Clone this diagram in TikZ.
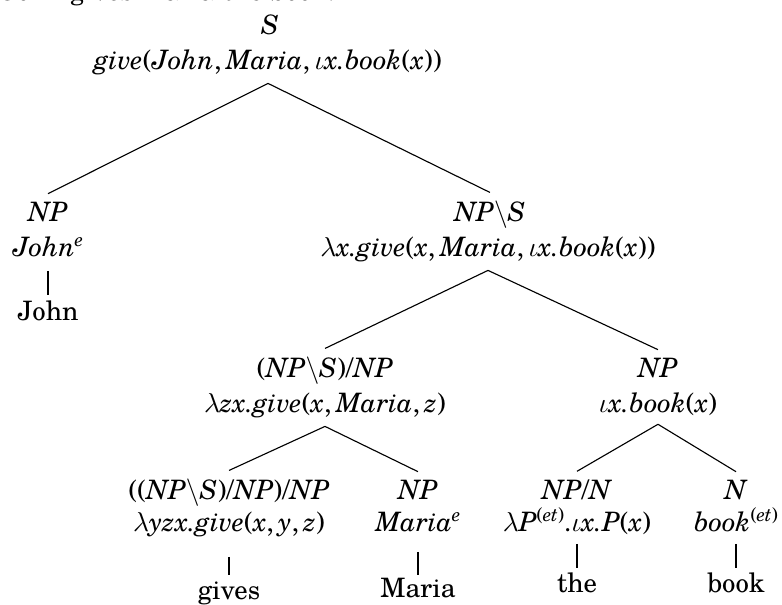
\documentclass[tikz,border=0pt]{standalone}
\usepackage{fontspec}
\setmainfont{TeX Gyre Schola}
% italic words set in the text italic
\newcommand\vi[1]{\textit{#1}}
\newcommand\bsl{$\backslash$}
\newcommand\lamb{$\lambda$}
\newcommand\iot{$\iota$}
\newcommand\supx[1]{\raisebox{4.3pt}{\fontsize{7.6}{8}\selectfont #1}}
\begin{document}
\begin{tikzpicture}[x=0.4pt,y=-0.4pt,
  font=\fontsize{10.7}{13}\selectfont,
  lbl/.style={inner sep=0pt,outer sep=0pt,anchor=base},
  edge/.style={line width=0.45pt},
]
\useasboundingbox (0,0) rectangle (782,605);

% sentence line above the tree
\node[lbl,anchor=base west] (cap) at (2,1) {John gives Maria the book.};

% root
\node[lbl] (sC) at (270,35) {\vi{S}};
\node[lbl] (sS) at (268,70) {\vi{give}(\vi{John},\,\vi{Maria},\,\iot\vi{x.book}(\vi{x}))};

% level 2
\node[lbl] (jC) at (48,222) {\vi{NP}};
\node[lbl] (jS) at (48,257) {\vi{John}\supx{\vi{e}}};
\node[lbl] (jW) at (48,321) {John};

\node[lbl] (vpC) at (490,222) {\vi{NP}\bsl\vi{S}};
\node[lbl] (vpS) at (488,257) {\lamb\vi{x.give}(\vi{x},\,\vi{Maria},\,\iot\vi{x.book}(\vi{x}))};

% level 3
\node[lbl] (tvC) at (325,378) {(\vi{NP}\bsl\vi{S})/\vi{NP}};
\node[lbl] (tvS) at (325,413) {\lamb\vi{zx.give}(\vi{x},\,\vi{Maria},\,\vi{z})};

\node[lbl] (dpC) at (658,378) {\vi{NP}};
\node[lbl] (dpS) at (658,413) {\iot\vi{x.book}(\vi{x})};

% level 4
\node[lbl] (gC) at (229,500) {((\vi{NP}\bsl\vi{S})/\vi{NP})/\vi{NP}};
\node[lbl] (gS) at (229,532) {\lamb\vi{yzx.give}(\vi{x},\,\vi{y},\,\vi{z})};
\node[lbl] (gW) at (229,600) {gives};

\node[lbl] (mC) at (418,500) {\vi{NP}};
\node[lbl] (mS) at (418,532) {\vi{Maria}\supx{\vi{e}}};
\node[lbl] (mW) at (418,598) {Maria};

\node[lbl] (dC) at (577,500) {\vi{NP}/\vi{N}};
\node[lbl] (dS) at (577,532) {\lamb\vi{P}\supx{(\vi{et})}.\iot\vi{x.P}(\vi{x})};
\node[lbl] (dW) at (577,593) {the};

\node[lbl] (nC) at (736,500) {\vi{N}};
\node[lbl] (nS) at (736,532) {\vi{book}\supx{(\vi{et})}};
\node[lbl] (nW) at (736,593) {book};

% branches
\draw[edge] ([yshift=-3.2pt]sS.south) -- ([yshift=3.6pt]jC.north);
\draw[edge] ([yshift=-3.2pt]sS.south) -- ([yshift=3.6pt]vpC.north);
\draw[edge] ([yshift=-3.2pt]vpS.south) -- ([yshift=3.6pt]tvC.north);
\draw[edge] ([yshift=-3.2pt]vpS.south) -- ([yshift=3.6pt]dpC.north);
\draw[edge] ([yshift=-3.2pt]tvS.south) -- ([yshift=3.6pt]gC.north);
\draw[edge] ([yshift=-3.2pt]tvS.south) -- ([yshift=3.6pt]mC.north);
\draw[edge] ([yshift=-3.2pt]dpS.south) -- ([yshift=3.6pt]dC.north);
\draw[edge] ([yshift=-3.2pt]dpS.south) -- ([yshift=3.6pt]nC.north);

% lexical leaves
\draw[edge] ([yshift=-5.6pt]jS.base) -- ([yshift=10.4pt]jW.base);
\draw[edge] ([yshift=-10pt]gS.base) -- ([yshift=10pt]gW.base);
\draw[edge] ([yshift=-8pt]mS.base) -- ([yshift=9.2pt]mW.base);
\draw[edge] ([yshift=-4.8pt]dS.base) -- ([yshift=10pt]dW.base);
\draw[edge] ([yshift=-4.8pt]nS.base) -- ([yshift=10pt]nW.base);
\end{tikzpicture}
\end{document}
